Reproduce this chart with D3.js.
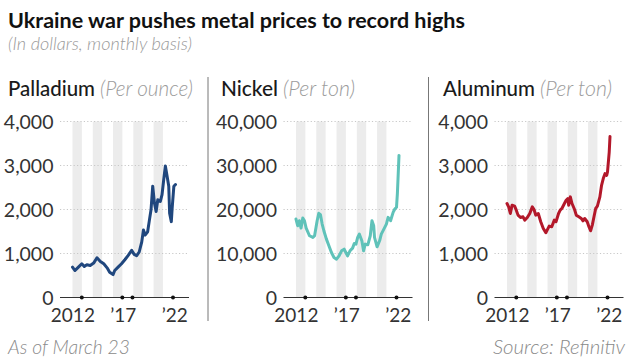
<!DOCTYPE html>
<html><head><meta charset="utf-8">
<script src="https://cdn.jsdelivr.net/npm/d3@7"></script>
<style>
body{margin:0;background:#fff}
svg{display:block}
text{font-family:Lato,"Noto Sans",sans-serif}
</style>
</head><body>
<svg id="c" width="639" height="360"></svg>
<script>
// ---- data ----
const metals = ["Palladium", "Nickel", "Aluminum"];
const units = ["(Per ounce)", "(Per ton)", "(Per ton)"];

const palladium = [
  ["2012-01",690],["2012-04",613],["2012-08",690],["2012-12",766],["2013-03",705],["2013-06",743],
  ["2013-10",728],["2014-02",782],["2014-06",904],["2014-10",820],["2015-02",766],["2015-06",674],
  ["2015-09",575],["2016-01",521],["2016-03",613],["2016-07",690],["2016-11",766],["2017-03",858],
  ["2017-07",958],["2017-11",1073],["2018-02",981],["2018-05",950],["2018-08",1034],["2018-11",1264],
  ["2019-01",1533],["2019-03",1418],["2019-06",1494],["2019-08",1747],["2019-10",1992],["2019-12",2529],
  ["2020-02",2146],["2020-04",1954],["2020-06",2222],["2020-09",2184],["2020-11",2337],["2021-01",2682],
  ["2021-03",2989],["2021-05",2759],["2021-07",2529],["2021-08",1916],["2021-10",1724],["2021-11",2031],
  ["2022-01",2529],["2022-03",2567]
];

const nickel = [
  ["2012-01",17830],["2012-03",16310],["2012-05",17450],["2012-07",15780],["2012-09",18060],["2012-11",17450],
  ["2013-01",15780],["2013-05",14030],["2013-09",13650],["2013-11",14030],["2014-02",17450],["2014-04",19130],
  ["2014-06",18820],["2014-08",16690],["2014-10",15170],["2015-01",13270],["2015-04",11750],["2015-07",10230],
  ["2015-10",9090],["2016-01",8710],["2016-04",9470],["2016-07",10610],["2016-10",10990],["2016-12",10230],
  ["2017-02",9470],["2017-05",10610],["2017-08",11220],["2017-10",12280],["2017-12",12130],["2018-02",13650],
  ["2018-04",14410],["2018-07",12890],["2018-09",10610],["2018-11",12130],["2019-02",11980],["2019-05",14030],
  ["2019-07",17450],["2019-09",16310],["2019-10",13650],["2020-01",11520],["2020-04",12890],["2020-06",14410],
  ["2020-09",15550],["2020-12",16690],["2021-02",18210],["2021-05",17450],["2021-08",19350],["2021-10",20110],
  ["2021-12",20500],["2022-01",23540],["2022-02",28100],["2022-03",32300]
];

const aluminum = [
  ["2012-01",2136],["2012-03",2060],["2012-05",1909],["2012-07",2098],["2012-10",2075],["2012-12",1985],
  ["2013-02",1872],["2013-05",1819],["2013-08",1834],["2013-10",1758],["2014-01",1819],["2014-04",1909],
  ["2014-07",2060],["2014-09",2000],["2014-11",1872],["2015-02",1909],["2015-05",1721],["2015-08",1570],
  ["2015-11",1472],["2016-01",1547],["2016-03",1623],["2016-06",1608],["2016-09",1758],["2016-11",1721],
  ["2017-02",1909],["2017-04",1985],["2017-06",2023],["2017-09",2136],["2017-11",2211],["2018-01",2249],
  ["2018-02",2098],["2018-04",2287],["2018-06",2136],["2018-09",2000],["2018-11",1872],["2019-02",1834],
  ["2019-05",1796],["2019-07",1743],["2019-09",1796],["2019-12",1721],["2020-02",1608],["2020-04",1517],
  ["2020-06",1645],["2020-08",1834],["2020-10",2023],["2020-12",2075],["2021-03",2287],["2021-05",2551],
  ["2021-07",2702],["2021-09",2815],["2021-11",2777],["2021-12",2853],["2022-02",3306],["2022-03",3660]
];

const series = [palladium, nickel, aluminum];
const yTicks = [
  [0, 1000, 2000, 3000, 4000],
  [0, 10000, 20000, 30000, 40000],
  [0, 1000, 2000, 3000, 4000]
];
const tickDotDates = ["2012-12-01", "2016-12-01", "2017-12-01", "2021-12-01"];
const tickLabels = [["2012-01-15", "2012"], ["2017-01-01", "\u201917"], ["2022-02-01", "\u201922"]];
const bandYears = [2012, 2014, 2016, 2018, 2020];

const title = "Ukraine war pushes metal prices to record highs";
const subtitle = "(In dollars, monthly basis)";
const footLeft = "As of March 23";
const footRight = "Source: Refinitiv";

// ---- layout / style ----
const colors = ["#20477e", "#5fc2b9", "#b3182a"];
const x2012 = [72.5, 296, 507];
const titleX = [8, 221, 443];
const nameW = [87, 57, 92];
const unitW = [93, 72, 72];
const separators = [208, 428.5];
const yTop = 121.5, yBase = 297.5;

const parse = d3.timeParse("%Y-%m");
const parseD = d3.timeParse("%Y-%m-%d");
const svg = d3.select("#c");
const fmt = d3.format(",");

// scale a text's font size so it spans the given width
function fit(sel, w) {
  const n = sel.node();
  const cur = n.getComputedTextLength();
  const fs = parseFloat(sel.attr("font-size"));
  if (cur > 0) sel.attr("font-size", (fs * w / cur).toFixed(2));
  return sel;
}

fit(svg.append("text").attr("x", 8).attr("y", 28)
  .attr("font-size", 22).attr("font-weight", 700).attr("fill", "#111").text(title), 457);
fit(svg.append("text").attr("x", 8).attr("y", 50)
  .attr("font-size", 17).attr("font-style", "italic").attr("font-weight", 300).attr("fill", "#9a9a9a").text(subtitle), 184);

separators.forEach(sx => {
  svg.append("line").attr("x1", sx).attr("x2", sx).attr("y1", 77).attr("y2", 321)
    .attr("stroke", "#777").attr("stroke-width", 1);
});

metals.forEach((m, i) => {
  const g = svg.append("g");
  const x = d3.scaleTime()
    .domain([parse("2012-01"), parse("2022-03")])
    .range([x2012[i], x2012[i] + 103]);
  const maxY = yTicks[i][yTicks[i].length - 1];
  const y = d3.scaleLinear().domain([0, maxY]).range([yBase, yTop]);
  const left = x2012[i] - 12.5, right = x2012[i] + 116.5;

  // panel title
  const nm = g.append("text").attr("x", titleX[i]).attr("y", 96).attr("font-size", 19.5)
    .attr("font-weight", 500).attr("fill", "#1a1a1a").text(m);
  fit(nm, nameW[i]);
  const un = g.append("text").attr("x", titleX[i] + nameW[i] + 5).attr("y", 96).attr("font-size", 19.5)
    .attr("font-style", "italic").attr("font-weight", 300).attr("fill", "#9c9c9c").text(units[i]);
  fit(un, unitW[i]);

  // bands
  g.selectAll("rect.band").data(bandYears).join("rect")
    .attr("x", d => x(new Date(d, 0, 1)))
    .attr("width", d => x(new Date(d + 1, 0, 1)) - x(new Date(d, 0, 1)) - 0.8)
    .attr("y", yTop).attr("height", yBase - yTop)
    .attr("fill", "#ececec");

  // gridlines
  g.selectAll("line.grid").data(yTicks[i].slice(1)).join("line")
    .attr("x1", left).attr("x2", right)
    .attr("y1", d => y(d)).attr("y2", d => y(d))
    .attr("stroke", "#c8c8c8").attr("stroke-width", 1.2).attr("stroke-dasharray", "1.2,2.2");

  // y labels
  g.selectAll("text.yl").data(yTicks[i]).join("text")
    .attr("x", left - 6.5).attr("y", d => y(d)).attr("dy", "0.36em")
    .attr("text-anchor", "end").attr("font-size", 19.5).attr("fill", "#333")
    .text(d => fmt(d));

  // baseline
  g.append("line").attr("x1", left).attr("x2", right)
    .attr("y1", yBase).attr("y2", yBase).attr("stroke", "#333").attr("stroke-width", 1);

  // tick dots
  g.selectAll("circle").data(tickDotDates).join("circle")
    .attr("cx", d => x(parseD(d))).attr("cy", yBase).attr("r", 2).attr("fill", "#111");

  // x labels
  g.selectAll("text.xl").data(tickLabels).join("text")
    .attr("x", d => x(parseD(d[0]))).attr("y", 322)
    .attr("text-anchor", "middle").attr("font-size", 19).attr("fill", "#333")
    .text(d => d[1]);

  // line
  const line = d3.line().x(d => x(parse(d[0]))).y(d => y(d[1])).curve(d3.curveLinear);
  g.append("path").datum(series[i]).attr("d", line)
    .attr("fill", "none").attr("stroke", colors[i]).attr("stroke-width", 3)
    .attr("stroke-linejoin", "round").attr("stroke-linecap", "round");
});

fit(svg.append("text").attr("x", 8).attr("y", 354)
  .attr("font-size", 18).attr("font-style", "italic").attr("font-weight", 300).attr("fill", "#8a8a8a").text(footLeft), 122);
fit(svg.append("text").attr("x", 625).attr("y", 354).attr("text-anchor", "end")
  .attr("font-size", 18).attr("font-style", "italic").attr("font-weight", 300).attr("fill", "#8a8a8a").text(footRight), 132);
</script>
</body></html>
